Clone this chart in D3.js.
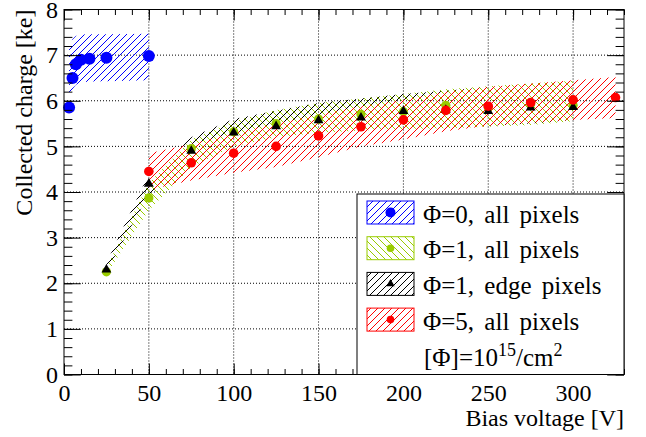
<!DOCTYPE html>
<html><head><meta charset="utf-8">
<script src="https://cdn.jsdelivr.net/npm/d3@7"></script>
<style>
body{margin:0;background:#fff}
svg text{font-family:"Liberation Serif","DejaVu Serif",serif !important;fill:#000}
</style>
</head><body>
<svg id="c" width="646" height="437" font-family="Liberation Serif"></svg>
<script>
// ---- data ----
const xTicks = [0, 50, 100, 150, 200, 250, 300];
const yTicks = [0, 1, 2, 3, 4, 5, 6, 7, 8];

const phi0X  = [3, 5, 7, 10, 15, 25, 50];
const phi0Y  = [5.85, 6.5, 6.8, 6.9, 6.92, 6.94, 6.98];
const phi0Lo = [6.1, 6.25, 6.35, 6.4, 6.42, 6.43, 6.45];
const phi0Hi = [7.15, 7.35, 7.42, 7.45, 7.46, 7.46, 7.47];

const phi1X      = [25, 50, 75, 100, 125, 150, 175, 200, 225, 250, 275, 300];
const phi1AllY   = [2.25, 3.87, 4.95, 5.32, 5.5, 5.6, 5.7, 5.76, 5.9, 5.85, 5.93, 5.9];
const phi1AllLo  = [2.2, 3.6, 4.55, 5.0, 5.2, 5.3, 5.35, 5.38, 5.4, 5.43, 5.47, 5.55];
const phi1AllHi  = [2.35, 4.2, 5.15, 5.55, 5.8, 5.95, 6.05, 6.15, 6.25, 6.32, 6.38, 6.44];
const phi1EdgeY  = [2.3, 4.18, 4.9, 5.3, 5.44, 5.57, 5.63, 5.77, 5.8, 5.77, 5.85, 5.86];
const phi1EdgeLo = [2.25, 3.95, 4.6, 5.0, 5.15, 5.28, 5.33, 5.38, 5.42, 5.45, 5.5, 5.58];
const phi1EdgeHi = [2.45, 4.4, 5.2, 5.6, 5.78, 5.95, 6.05, 6.15, 6.22, 6.3, 6.36, 6.42];

const phi5X  = [50, 75, 100, 125, 150, 175, 200, 225, 250, 275, 300, 325];
const phi5Y  = [4.45, 4.64, 4.85, 5.0, 5.23, 5.43, 5.58, 5.79, 5.88, 5.96, 6.02, 6.07];
const phi5Lo = [4.05, 4.25, 4.42, 4.55, 4.76, 5.0, 5.15, 5.33, 5.45, 5.52, 5.58, 5.62];
const phi5Hi = [4.85, 5.05, 5.3, 5.5, 5.7, 5.88, 6.02, 6.2, 6.3, 6.38, 6.45, 6.52];

const legendLabels = ["Φ=0, all pixels", "Φ=1, all pixels", "Φ=1, edge pixels", "Φ=5, all pixels"];

// ---- setup ----
const FONT = "Liberation Serif";
const svg = d3.select("#c");
const L = 64, R = 624, T = 9.5, B = 374.5;
const x = d3.scaleLinear().domain([0, 330]).range([L, R]);
const y = d3.scaleLinear().domain([0, 8]).range([B, T]);

const blue = "#0000ff", green = "#99cc00", black = "#000000", red = "#ff0000";

const defs = svg.append("defs");
function hatch(id, color, dir) {
  const p = defs.append("pattern").attr("id", id).attr("patternUnits", "userSpaceOnUse")
    .attr("width", 7).attr("height", 7);
  const d = dir === "/" ? "M0,7 L7,0 M-1,1 L1,-1 M6,8 L8,6" : "M0,0 L7,7 M-1,6 L1,8 M6,-1 L8,1";
  p.append("path").attr("d", d).attr("stroke", color).attr("stroke-width", 1).attr("fill", "none");
}
hatch("hBlue", blue, "/");
hatch("hGreen", green, "\\");
hatch("hBlack", black, "/");
hatch("hRed", red, "/");

// grid
const g = svg.append("g");
xTicks.filter(v => v > 0).forEach(v => {
  g.append("line").attr("x1", x(v)).attr("x2", x(v)).attr("y1", T).attr("y2", B)
    .attr("stroke", "#000").attr("stroke-dasharray", "1,2").attr("stroke-width", 1);
});
yTicks.filter(v => v > 0 && v < 8).forEach(v => {
  g.append("line").attr("x1", L).attr("x2", R).attr("y1", y(v)).attr("y2", y(v))
    .attr("stroke", "#000").attr("stroke-dasharray", "1,2").attr("stroke-width", 1);
});

// bands
const area = d3.area().x(d => x(d.x)).y0(d => y(d.lo)).y1(d => y(d.hi));
function band(xs, lo, hi, pat) {
  const data = xs.map((v, i) => ({x: v, lo: lo[i], hi: hi[i]}));
  svg.append("path").attr("d", area(data)).attr("fill", `url(#${pat})`).attr("stroke", "none");
}
band(phi0X, phi0Lo, phi0Hi, "hBlue");
band(phi1X, phi1AllLo, phi1AllHi, "hGreen");
band(phi1X, phi1EdgeLo, phi1EdgeHi, "hBlack");
band(phi5X, phi5Lo, phi5Hi, "hRed");

// markers
function dots(xs, ys, color, r) {
  svg.append("g").selectAll("circle").data(xs.map((v, i) => [v, ys[i]])).join("circle")
    .attr("cx", d => x(d[0])).attr("cy", d => y(d[1])).attr("r", r).attr("fill", color);
}
dots(phi0X, phi0Y, blue, 6);
dots(phi1X, phi1AllY, green, 4.6);
const tri = d3.symbol().type(d3.symbolTriangle).size(42);
svg.append("g").selectAll("path").data(phi1X.map((v, i) => [v, phi1EdgeY[i]])).join("path")
  .attr("d", tri).attr("transform", d => `translate(${x(d[0])},${y(d[1])})`).attr("fill", black);
dots(phi5X, phi5Y, red, 4.8);

// axes (ticks inward on all sides)
const xMinor = d3.range(0, 331, 10);
const yMinor = d3.range(0, 8.001, 0.2);
function clean(gSel) { gSel.select(".domain").remove(); gSel.attr("font-family", FONT); }
function lbl(s) { s.selectAll("text").attr("font-size", 24).attr("font-family", FONT).attr("fill", "#000"); }
svg.append("g").attr("transform", `translate(0,${B})`)
  .call(d3.axisBottom(x).tickValues(xMinor).tickSize(-5.5).tickFormat("")).call(clean);
svg.append("g").attr("transform", `translate(0,${B})`)
  .call(d3.axisBottom(x).tickValues(xTicks).tickSize(-11).tickPadding(9).tickFormat(d3.format("d")))
  .call(clean).call(lbl);
svg.append("g").attr("transform", `translate(0,${T})`)
  .call(d3.axisTop(x).tickValues(xMinor).tickSize(-5.5).tickFormat("")).call(clean);
svg.append("g").attr("transform", `translate(0,${T})`)
  .call(d3.axisTop(x).tickValues(xTicks).tickSize(-11).tickFormat("")).call(clean);

svg.append("g").attr("transform", `translate(${L},0)`)
  .call(d3.axisLeft(y).tickValues(yMinor).tickSize(-8.4).tickFormat("")).call(clean);
svg.append("g").attr("transform", `translate(${L},0)`)
  .call(d3.axisLeft(y).tickValues(yTicks).tickSize(-16.8).tickPadding(6).tickFormat(d3.format("d")))
  .call(clean).call(lbl);
svg.append("g").attr("transform", `translate(${R},0)`)
  .call(d3.axisRight(y).tickValues(yMinor).tickSize(-8.4).tickFormat("")).call(clean);
svg.append("g").attr("transform", `translate(${R},0)`)
  .call(d3.axisRight(y).tickValues(yTicks).tickSize(-16.8).tickFormat("")).call(clean);

svg.selectAll(".tick line").attr("stroke", "#000");

// frame
svg.append("rect").attr("x", L).attr("y", T).attr("width", R - L).attr("height", B - T)
  .attr("fill", "none").attr("stroke", "#000").attr("stroke-width", 1);

// axis titles
svg.append("text").attr("x", R).attr("y", 426).attr("text-anchor", "end")
  .attr("font-family", FONT).attr("font-size", 24).text("Bias voltage [V]");
svg.append("text").attr("transform", `translate(32,${T}) rotate(-90)`).attr("text-anchor", "end")
  .attr("font-family", FONT).attr("font-size", 24).text("Collected charge [ke]");

// legend
const lg = svg.append("g").attr("font-family", FONT);
lg.append("rect").attr("x", 357).attr("y", 194).attr("width", R - 357).attr("height", B - 194)
  .attr("fill", "#fff").attr("stroke", "#000").attr("stroke-width", 1);
const lColors = [blue, green, black, red];
const lPats = ["hBlue", "hGreen", "hBlack", "hRed"];
legendLabels.forEach((lab, i) => {
  const top = 201 + i * 35.7;
  lg.append("rect").attr("x", 367).attr("y", top).attr("width", 47).attr("height", 23)
    .attr("fill", `url(#${lPats[i]})`).attr("stroke", lColors[i]).attr("stroke-width", 1);
  const cx = 390.5, cy = top + 11.5;
  if (i === 2) {
    lg.append("path").attr("d", d3.symbol().type(d3.symbolTriangle).size(30)())
      .attr("transform", `translate(${cx},${cy})`).attr("fill", black);
  } else {
    lg.append("circle").attr("cx", cx).attr("cy", cy).attr("r", [5, 3.8, 0, 3.8][i]).attr("fill", lColors[i]);
  }
  lg.append("text").attr("x", 423).attr("y", top + 21.5).attr("font-family", FONT)
    .attr("font-size", 25).attr("word-spacing", 4).text(lab);
});
const ft = lg.append("text").attr("x", 424).attr("y", 366).attr("font-family", FONT).attr("font-size", 25);
ft.append("tspan").text("[Φ]=10");
ft.append("tspan").attr("font-size", 18).attr("dy", -10).text("15");
ft.append("tspan").attr("dy", 10).text("/cm");
ft.append("tspan").attr("font-size", 18).attr("dy", -10).text("2");
</script>
</body></html>
